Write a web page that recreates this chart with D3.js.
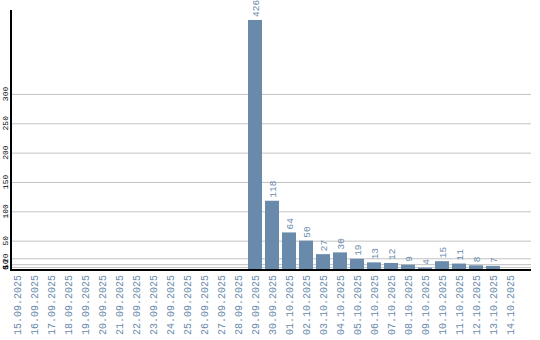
<!DOCTYPE html>
<html lang="en">
<head>
    <meta charset="utf-8">
    <title>Daily counts</title>
    <script src="https://cdn.jsdelivr.net/npm/d3@7"></script>
</head>
<style>
    body { margin: 0; background: #fff; }
</style>
<body>
    <script type="text/javascript">
        // data
        var dates = ["15.09.2025", "16.09.2025", "17.09.2025", "18.09.2025", "19.09.2025",
            "20.09.2025", "21.09.2025", "22.09.2025", "23.09.2025", "24.09.2025",
            "25.09.2025", "26.09.2025", "27.09.2025", "28.09.2025", "29.09.2025",
            "30.09.2025", "01.10.2025", "02.10.2025", "03.10.2025", "04.10.2025",
            "05.10.2025", "06.10.2025", "07.10.2025", "08.10.2025", "09.10.2025",
            "10.10.2025", "11.10.2025", "12.10.2025", "13.10.2025", "14.10.2025"];
        var counts = [0, 0, 0, 0, 0, 0, 0, 0, 0, 0, 0, 0, 0, 0, 426,
            118, 64, 50, 27, 30, 19, 13, 12, 9, 4, 15, 11, 8, 7, 0];
        var yTicks = [0, 5, 10, 20, 50, 100, 150, 200, 250, 300];

        var width = 540;
        var height = 340;
        var barColor = "#698aab";
        var mono = "'Liberation Mono', 'DejaVu Sans Mono', monospace";

        var svg = d3.select("body").append("svg")
            .attr("width", width)
            .attr("height", height);

        var x = d3.scaleBand()
            .domain(dates)
            .range([10, 517])
            .paddingInner(3 / 17)
            .paddingOuter(0);
        var y = d3.scaleLinear()
            .domain([0, 443])
            .range([270, 10]);

        // grid
        svg.append("g").selectAll("line")
            .data(yTicks.filter(d => d > 0))
            .join("line")
            .attr("x1", 11)
            .attr("x2", 531)
            .attr("y1", d => y(d) + 0.5)
            .attr("y2", d => y(d) + 0.5)
            .attr("stroke", "#c3c3c3")
            .attr("stroke-width", 1);

        // y tick labels, rotated
        svg.append("g").selectAll("text")
            .data(yTicks)
            .join("text")
            .attr("transform", d => `translate(8,${y(d)}) rotate(-90)`)
            .attr("text-anchor", d => d == 0 ? "start" : "middle")
            .attr("font-family", mono)
            .attr("font-size", 8)
            .attr("fill", "#000")
            .text(d => d);

        // bars
        svg.append("g").selectAll("rect")
            .data(dates)
            .join("rect")
            .attr("x", d => x(d))
            .attr("width", x.bandwidth())
            .attr("y", (d, i) => y(counts[i]))
            .attr("height", (d, i) => y(0) - y(counts[i]))
            .attr("fill", barColor);

        // value labels
        svg.append("g").selectAll("text")
            .data(dates.filter((d, i) => counts[i] > 0))
            .join("text")
            .attr("transform", d => `translate(${x(d) + x.bandwidth() / 2 + 3.5},${y(counts[dates.indexOf(d)]) - 3}) rotate(-90)`)
            .attr("font-family", mono)
            .attr("font-size", 9.5)
            .attr("fill", barColor)
            .text(d => counts[dates.indexOf(d)]);

        // axes lines
        svg.append("line")
            .attr("x1", 11).attr("x2", 11)
            .attr("y1", 10).attr("y2", 271)
            .attr("stroke", "#000").attr("stroke-width", 2);
        svg.append("line")
            .attr("x1", 10).attr("x2", 531)
            .attr("y1", 270).attr("y2", 270)
            .attr("stroke", "#000").attr("stroke-width", 2);

        // date labels
        svg.append("g").selectAll("text")
            .data(dates)
            .join("text")
            .attr("transform", d => `translate(${x(d) + x.bandwidth() / 2 + 3.5},275) rotate(-90)`)
            .attr("text-anchor", "end")
            .attr("font-family", mono)
            .attr("font-size", 10)
            .attr("fill", barColor)
            .text(d => d);
    </script>
</body>
</html>
